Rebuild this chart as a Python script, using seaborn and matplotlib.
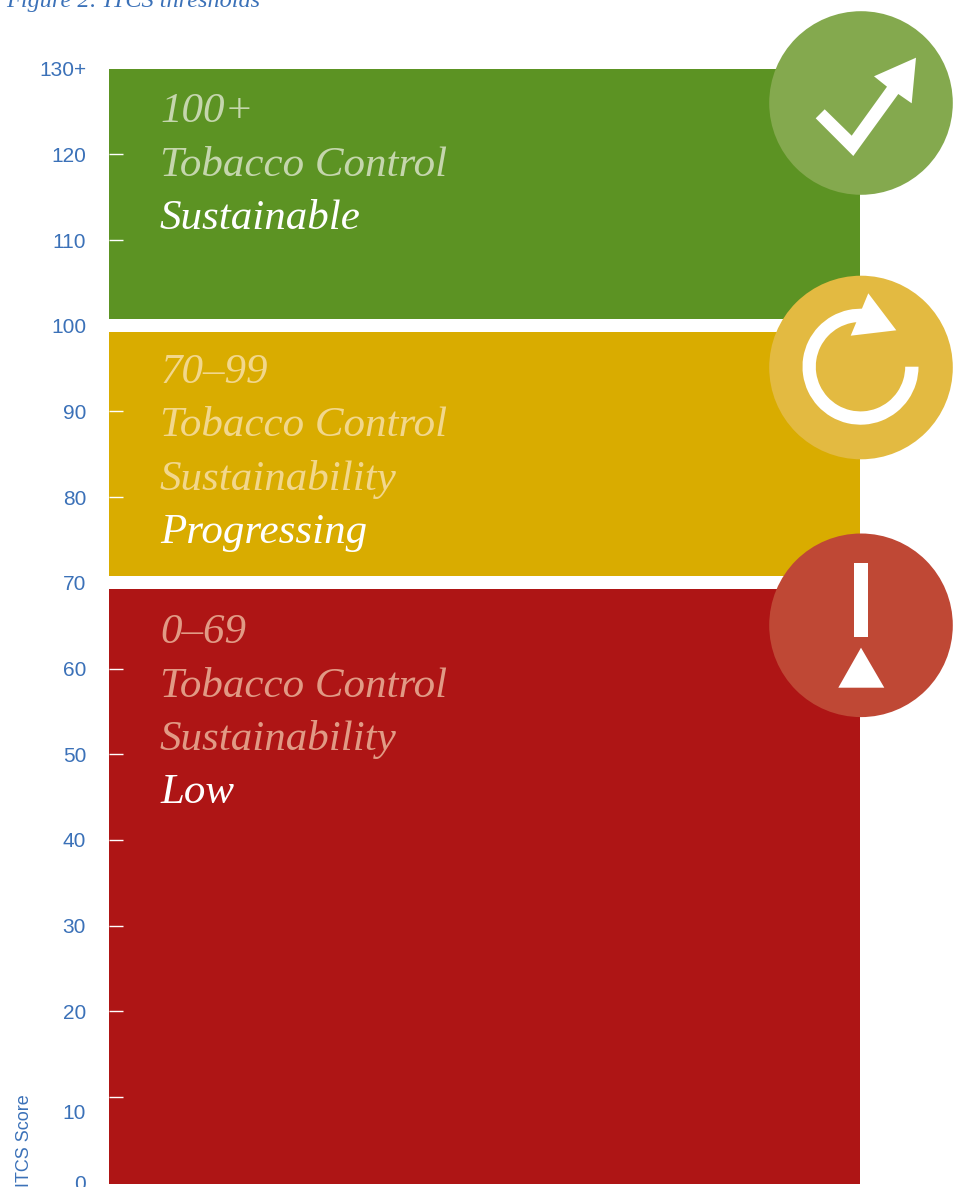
import numpy as np
import pandas as pd
import matplotlib
matplotlib.use("Agg")
import matplotlib.pyplot as plt
import seaborn as sns
from matplotlib.patches import Circle, Polygon, Rectangle, Wedge
from matplotlib.transforms import ScaledTranslation

# ---- data ----
band_names = ["Low", "Progressing", "Sustainable"]
band_low = [-0.1, 70.8, 100.8]
band_high = [69.3, 99.3, 130.0]
band_colors = ["#AE1515", "#D9AC00", "#5C9323"]
circle_colors = ["#BF4835", "#E3BA41", "#84A94E"]
tick_values = [0, 10, 20, 30, 40, 50, 60, 70, 80, 90, 100, 110, 120, 130]
tick_labels = ["0", "10", "20", "30", "40", "50", "60", "70", "80", "90", "100", "110", "120", "130+"]
texts_green = ["100+", "Tobacco Control", "Sustainable"]
texts_yellow = ["70\u201399", "Tobacco Control", "Sustainability", "Progressing"]
texts_red = ["0\u201369", "Tobacco Control", "Sustainability", "Low"]
baselines_green = [122, 176, 229]
baselines_yellow = [383, 436, 490, 543]
baselines_red = [643, 697, 750, 803]
title = "Figure 2: ITCS thresholds"
axis_label = "ITCS Score"

BLUE = "#3B71B8"
W, H = 960, 1187
sns.set_style("white")
plt.rcParams["font.family"] = ["Liberation Sans", "DejaVu Sans"]
SERIF = ["Liberation Serif", "DejaVu Serif"]

fig = plt.figure(figsize=(W / 100, H / 100), dpi=100, facecolor="white")
x0, x1, y_top, y_bot = 109, 860, 68.7, 1183.7
ax = fig.add_axes([x0 / W, 1 - y_bot / H, (x1 - x0) / W, (y_bot - y_top) / H])

for name, lo, hi, col in zip(band_names, band_low, band_high, band_colors):
    df = pd.DataFrame({"band": ["score"], "span": [hi - lo]})
    sns.barplot(data=df, x="band", y="span", bottom=lo, width=1.0, color=col,
                saturation=1, linewidth=0, ax=ax)

ax.set_xlim(-0.5, 0.5)
ax.set_ylim(-0.12, 130)
ax.set_xlabel("")
ax.set_ylabel("")
ax.set_xticks([])
ax.set_yticks(tick_values)
ax.set_yticklabels(tick_labels)
ax.set_axisbelow(False)
ax.tick_params(axis="y", left=True, direction="in", length=10, width=1.0,
               color="white", pad=16.5, labelsize=15, labelcolor=BLUE)
ax.yaxis.get_major_ticks()[0].tick1line.set_visible(False)
ax.yaxis.get_major_ticks()[-1].tick1line.set_visible(False)
sns.despine(ax=ax, left=True, bottom=True)
# the "10" label sits lower than its tick in the original
lab10 = ax.get_yticklabels()[1]
lab10.set_transform(lab10.get_transform() + ScaledTranslation(0, -15 / 100, fig.dpi_scale_trans))

# overlay in pixel coordinates for annotations and icons
ov = fig.add_axes([0, 0, 1, 1], facecolor="none")
ov.set_xlim(0, W)
ov.set_ylim(H, 0)
ov.axis("off")

def block(lines, baselines, faint):
    for i, (s, b) in enumerate(zip(lines, baselines)):
        last = i == len(lines) - 1
        ov.text(160, b, s, family=SERIF, style="italic", fontsize=31,
                color="white" if last else faint, va="baseline", ha="left")

block(texts_green, baselines_green, "#C5D6AD")
block(texts_yellow, baselines_yellow, "#F2D78C")
block(texts_red, baselines_red, "#E19A85")

ov.text(6, 7, title, family=SERIF, style="italic", fontsize=17.5, color=BLUE, va="baseline", ha="left")
ov.text(25, 1187, axis_label, rotation=90, fontsize=13, color=BLUE, va="bottom", ha="center",
        rotation_mode="default")

# circles
for (cx, cy), col in zip([(861, 625.3), (861, 367.5), (861, 103)], circle_colors):
    ov.add_patch(Circle((cx, cy), 91.8, fc=col, ec="none"))

# check / arrow icon
ov.add_patch(Polygon([(815.7, 118.3), (824.7, 109.3), (851.7, 135.7), (887, 86.7), (874, 76.3),
                      (916, 57.7), (911.7, 103.3), (898.3, 94), (853.3, 156)], fc="white", ec="none"))
# refresh icon
ov.add_patch(Wedge((860.5, 366.7), 58, 0, 275, width=13.3, fc="white", ec="none"))
ov.add_patch(Polygon([(868.3, 293.3), (896.3, 330.3), (850.7, 335.7)], fc="white", ec="none"))
# exclamation icon
ov.add_patch(Rectangle((854, 563), 14.3, 74, fc="white", ec="none"))
ov.add_patch(Polygon([(861, 647.7), (838.3, 687.7), (884.3, 687.7)], fc="white", ec="none"))

fig.savefig("out.png", dpi=100)
